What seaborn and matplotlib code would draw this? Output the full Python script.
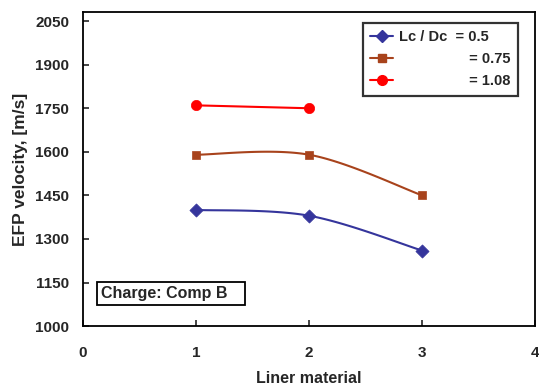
import numpy as np
import pandas as pd
import matplotlib
matplotlib.use("Agg")
import matplotlib.pyplot as plt
import seaborn as sns

liner = [1, 2, 3]
v_05 = [1400, 1380, 1260]
v_075 = [1590, 1590, 1450]
liner_108 = [1, 2]
v_108 = [1760, 1750]
labels = ["Lc / Dc  = 0.5", " " * 17 + "= 0.75", " " * 17 + "= 1.08"]
colors = ["#35359c", "#a8431c", "#ff0000"]
markers = ["D", "s", "o"]


def smooth(x, y, n=40):
    # Excel-style smoothed line (cubic bezier through the points)
    x = np.asarray(x, float)
    y = np.asarray(y, float)
    if len(x) < 3:
        return x, y
    pts = np.column_stack([x, y])
    out = []
    for i in range(len(pts) - 1):
        p0 = pts[max(i - 1, 0)]
        p1 = pts[i]
        p2 = pts[i + 1]
        p3 = pts[min(i + 2, len(pts) - 1)]
        c1 = p1 + (p2 - p0) / 6
        c2 = p2 - (p3 - p1) / 6
        t = np.linspace(0, 1, n)[:, None]
        seg = (1 - t) ** 3 * p1 + 3 * (1 - t) ** 2 * t * c1 + 3 * (1 - t) * t ** 2 * c2 + t ** 3 * p2
        out.append(seg)
    out = np.vstack(out)
    return out[:, 0], out[:, 1]


sns.set_style("white")
plt.rcParams["font.family"] = ["Liberation Sans", "DejaVu Sans"]
plt.rcParams["font.weight"] = "bold"

fig = plt.figure(figsize=(5.39, 3.91), dpi=100)
ax = fig.add_axes([0.154, 0.166, 0.839, 0.803])

sizes = {"D": 45, "s": 40, "o": 55}
series = [(liner, v_05), (liner, v_075), (liner_108, v_108)]
handles = []
for (xs, ys), lab, c, m in zip(series, labels, colors, markers):
    sx, sy = smooth(xs, ys)
    ax.plot(sx, sy, color=c, lw=1.5)
    df = pd.DataFrame({"x": xs, "y": ys})
    sns.scatterplot(data=df, x="x", y="y", ax=ax, color=c, marker=m,
                    s=sizes[m], edgecolor=c, linewidth=0.5, zorder=3)
    h, = ax.plot([], [], color=c, marker=m, lw=1.5,
                 ms={"D": 6, "s": 6, "o": 7}[m], label=lab)
    handles.append(h)

ax.set_xlim(0, 4)
ax.set_ylim(1000, 2081)
ax.set_xticks([0, 1, 2, 3, 4])
ax.set_yticks(np.arange(1000, 2051, 150))
ax.set_xlabel("Liner material", fontsize=11.5, fontweight="bold", labelpad=8)
ax.set_ylabel("EFP velocity, [m/s]", fontsize=12.5, fontweight="bold", labelpad=5)
ax.tick_params(axis="both", labelsize=11, direction="in", length=4, width=1.2,
               bottom=True, left=True)
ax.tick_params(axis="x", pad=14)
ax.tick_params(axis="y", pad=10)
for lbl in ax.get_xticklabels() + ax.get_yticklabels():
    lbl.set_fontweight("bold")
for s in ax.spines.values():
    s.set_color("black")
    s.set_linewidth(1.3)

leg = ax.legend(handles=handles, loc="upper right", fontsize=10.5, frameon=True,
                fancybox=False, edgecolor="black", handlelength=1.6,
                handletextpad=0.4, borderpad=0.5, labelspacing=0.55,
                borderaxespad=0, bbox_to_anchor=(0.962, 0.965))
leg.get_frame().set_linewidth(1.6)
for t in leg.get_texts():
    t.set_fontweight("bold")

ax.text(0.04, 0.105, "Charge: Comp B   ", transform=ax.transAxes, fontsize=11.5,
        fontweight="bold", va="center", ha="left",
        bbox=dict(boxstyle="square,pad=0.25", fc="white", ec="black", lw=1.3))

fig.savefig("out.png", dpi=100)
